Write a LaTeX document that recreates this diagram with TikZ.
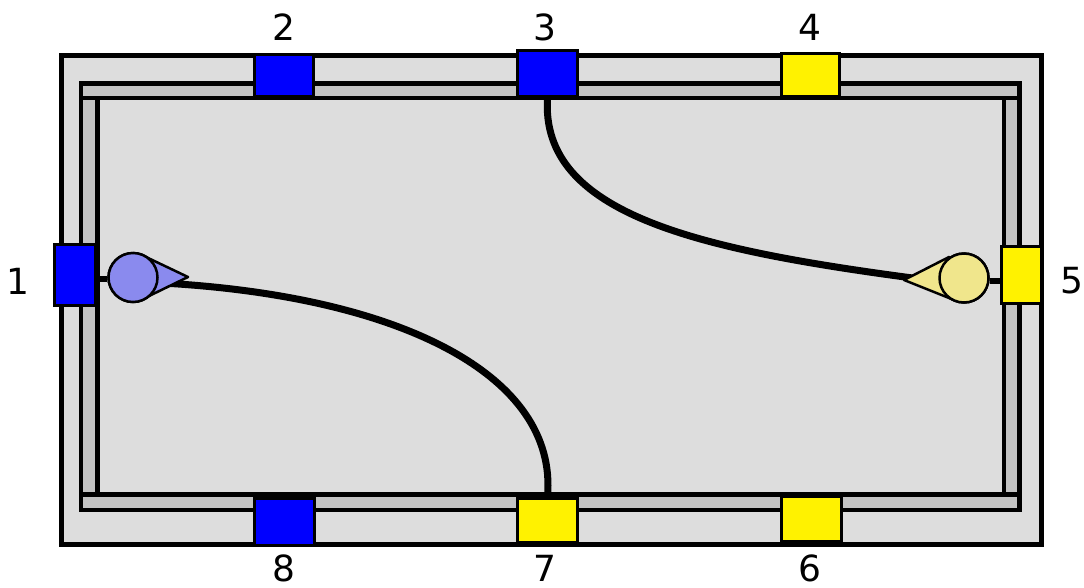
\documentclass[tikz,border=0pt]{standalone}
\usepackage{fontspec}
\setmainfont{DejaVu Sans}
\begin{document}
\begin{tikzpicture}[x=1pt,y=-1pt,
  frame/.style={draw=black,line width=5pt,fill=bgray},
  rail/.style={draw=black,line width=4.5pt,fill=rgray},
  port/.style={draw=black,line width=3pt,inner sep=0pt,rectangle},
  bport/.style={port,fill=blue},
  yport/.style={port,fill=yellow},
  lab/.style={font=\fontsize{36}{40}\selectfont,inner sep=0pt},
  wire/.style={draw=black,line width=7pt},
  stub/.style={draw=black,line width=6pt},
  cone/.style={draw=black,line width=2.5pt,line join=round},
  ball/.style={circle,draw=black,line width=2.5pt,minimum size=49pt,inner sep=0pt}]
\definecolor{bgray}{HTML}{DDDDDD}
\definecolor{rgray}{HTML}{C3C3C3}
\definecolor{conblue}{HTML}{8A8AEE}
\definecolor{conyel}{HTML}{F0E68C}
\useasboundingbox (0,0) rectangle (1084,587);
% outer frame
\draw[frame] (61,55.5) rectangle (1041.5,544);
% rails
\draw[rail] (81,98) rectangle (97.5,494.5);
\draw[rail] (1004,98) rectangle (1019.5,494.5);
\draw[rail] (81,83.5) rectangle (1019.5,98);
\draw[rail] (81,494.5) rectangle (1019.5,510);
% ports
\node[bport,minimum width=41pt,minimum height=61pt] (p1) at (75,275) {};
\node[bport,minimum width=59pt,minimum height=42pt] (p2) at (284,75.5) {};
\node[bport,minimum width=60pt,minimum height=46pt] (p3) at (547.5,73.5) {};
\node[yport,minimum width=58pt,minimum height=43pt] (p4) at (810.5,74.5) {};
\node[yport,minimum width=40pt,minimum height=57pt] (p5) at (1021.5,275) {};
\node[yport,minimum width=60pt,minimum height=45pt] (p6) at (811,519) {};
\node[yport,minimum width=60pt,minimum height=44pt] (p7) at (547.5,520) {};
\node[bport,minimum width=60pt,minimum height=47pt] (p8) at (284.5,522) {};
% labels
\node[lab] (l1) at (18,281) {1};
\node[lab] (l2) at (284,27) {2};
\node[lab] (l3) at (545,27) {3};
\node[lab] (l4) at (810,27) {4};
\node[lab] (l5) at (1072,281) {5};
\node[lab] (l6) at (810,568) {6};
\node[lab] (l7) at (545,568) {7};
\node[lab] (l8) at (284,568) {8};
% cone anchor coordinates
\coordinate (ta) at (188,277);
\coordinate (tb) at (904,280);
\coordinate (sa) at (162,283);
\coordinate (sb) at (920,279);
% curves
\draw[wire] (sa) .. controls (400,296) and (558,375) .. (p7.north);
\draw[wire] (p3.south) .. controls (540,215) and (700,250) .. (sb);
% redraw port 3 and 7 over curve ends
\node[bport,minimum width=60pt,minimum height=46pt] at (547.5,73.5) {};
\node[yport,minimum width=60pt,minimum height=44pt] at (547.5,520) {};
% stubs
\node[ball,fill=conblue] (c1) at (133,277.5) {};
\node[ball,fill=conyel] (c5) at (964,278) {};
\draw[stub] (p1.east |- 0,279) -- (c1.west |- 0,279);
\draw[stub] (c5.east |- 0,281) -- (p5.west |- 0,281);
% cones
\draw[cone,fill=conblue] (146,257) -- (ta) -- (149,296) -- cycle;
\draw[cone,fill=conyel] (949,257) -- (tb) -- (954,300) -- cycle;
\node[ball,fill=conblue] at (133,277.5) {};
\node[ball,fill=conyel] at (964,278) {};
\end{tikzpicture}
\end{document}
